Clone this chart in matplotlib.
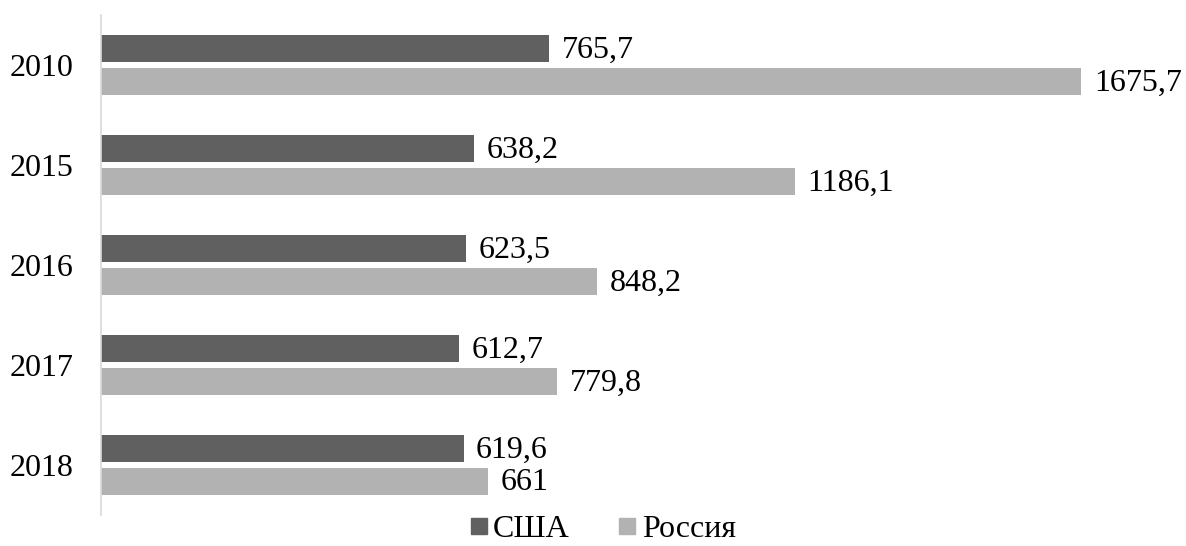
import matplotlib.pyplot as plt
from matplotlib.lines import Line2D

plt.rcParams['font.family'] = ['Liberation Serif', 'DejaVu Serif']

# Data
years = ['2010', '2015', '2016', '2017', '2018']
usa = [765.7, 638.2, 623.5, 612.7, 619.6]
russia = [1675.7, 1186.1, 848.2, 779.8, 661]
usa_labels = ['765,7', '638,2', '623,5', '612,7', '619,6']
russia_labels = ['1675,7', '1186,1', '848,2', '779,8', '661']

dark = '#606060'
light = '#b2b2b2'
fs = 23

fig = plt.figure(figsize=(11.86, 5.46), dpi=100)
ax = fig.add_axes([0.0852, 0.0568, 0.8879, 0.9158])

pos = list(range(len(years)))
h = 0.27
off = 0.165
ax.barh([p - off for p in pos], usa, height=h, color=dark)
ax.barh([p + off for p in pos], russia, height=h, color=light)

# value labels to the right of each bar
for p, v, s in zip(pos, usa, usa_labels):
    ax.annotate(s, (v, p - off), xytext=(9, -1), textcoords='offset points',
                va='center', ha='left', fontsize=fs)
for p, v, s in zip(pos, russia, russia_labels):
    ax.annotate(s, (v, p + off), xytext=(9, -1), textcoords='offset points',
                va='center', ha='left', fontsize=fs)

ax.set_xlim(0, 1800)
ax.set_ylim(len(years) - 0.5, -0.5)
ax.set_yticks(pos)
ax.set_yticklabels(years, fontsize=fs)
ax.set_xticks([])
ax.tick_params(axis='y', length=0, pad=20)

for side in ['top', 'right', 'bottom']:
    ax.spines[side].set_visible(False)
ax.spines['left'].set_color('#d9d9d9')
ax.spines['left'].set_linewidth(1.2)

handles = [
    Line2D([], [], marker='s', ls='', color=dark, markersize=11),
    Line2D([], [], marker='s', ls='', color=light, markersize=11),
]
fig.legend(handles, ['США', 'Россия'], loc='center', bbox_to_anchor=(0.508, 0.03),
           ncol=2, frameon=False, fontsize=fs, handlelength=0.6, handletextpad=0.15,
           columnspacing=1.5, borderpad=0)

plt.savefig('out.png', dpi=100)
